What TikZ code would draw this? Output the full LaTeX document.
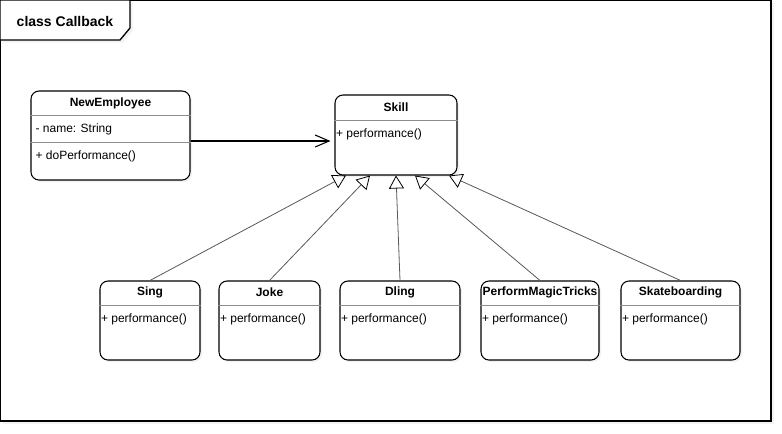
\documentclass[tikz,border=0pt]{standalone}
\usepackage{fontspec}
\setmainfont{Liberation Sans}
\usetikzlibrary{arrows.meta,shadows}

\begin{document}
\begin{tikzpicture}[x=0.75pt,y=-0.75pt,
  cls/.style 2 args={draw,line width=0.8pt,rounded corners=6pt,fill=white,
    minimum width=#1*0.75pt,minimum height=#2*0.75pt,inner sep=0pt,
    drop shadow={opacity=0.1,shadow xshift=1.5pt,shadow yshift=-1.5pt}},
  ctitle/.style={font=\bfseries\fontsize{9}{10}\selectfont,inner sep=0pt},
  member/.style={font=\fontsize{9}{10}\selectfont,anchor=west,inner sep=1pt},
  sep/.style={draw=black!45,line width=0.5pt},
  assoc/.style={line width=0.8pt,-{Straight Barb[length=10.5pt,width=9pt]},shorten >=3pt},
  gen/.style={draw=black!65,line width=0.6pt,-{Triangle[open,length=9.75pt,width=11.25pt,color=black]}},
]
\useasboundingbox (0,0) rectangle (782,433);
% frame and its tab
\draw[line width=1.2pt,fill=white,drop shadow={opacity=0.1,shadow xshift=2pt,shadow yshift=-2pt}] (0,0) rectangle (771,421);
\draw[line width=1pt,fill=white,drop shadow={opacity=0.1,shadow xshift=2pt,shadow yshift=-2pt}] (0,0) -- (130,0) -- (130,28) -- (120,40) -- (0,40) -- cycle;
\node[font=\bfseries\fontsize{10.5}{12}\selectfont] (frametitle) at (65,21) {class Callback};

% classes
\node[cls={159}{89}] (newemp) at (110.5,135.5) {};
\node[cls={122}{80}] (skill) at (396,135) {};
\node[cls={100}{79}] (sing) at (150,320.5) {};
\node[cls={101}{79}] (joke) at (269.5,320.5) {};
\node[cls={120}{79}] (dling) at (400,320.5) {};
\node[cls={118}{79}] (magic) at (540,320.5) {};
\node[cls={119}{79}] (skate) at (680.5,320.5) {};

% compartments
\draw[sep] (newemp.west |- 0,115) -- (newemp.east |- 0,115);
\draw[sep] (newemp.west |- 0,142) -- (newemp.east |- 0,142);
\draw[sep] (skill.west |- 0,120) -- (skill.east |- 0,120);
\draw[sep] (sing.west |- 0,305) -- (sing.east |- 0,305);
\draw[sep] (joke.west |- 0,305) -- (joke.east |- 0,305);
\draw[sep] (dling.west |- 0,305) -- (dling.east |- 0,305);
\draw[sep] (magic.west |- 0,305) -- (magic.east |- 0,305);
\draw[sep] (skate.west |- 0,305) -- (skate.east |- 0,305);

% names and members
\node[ctitle] (newempt) at (110.5,103) {NewEmployee};
\node[member] (newempname) at (34,129) {- name: String};
\node[member] (newempop) at (34,156) {+ doPerformance()};
\node[ctitle] (skillt) at (396,107) {Skill};
\node[member] (skillop) at (skill.west |- 0,134) {+ performance()};
\node[ctitle] (singt) at (150,292) {Sing};
\node[member] (singop) at (sing.west |- 0,319) {+ performance()};
\node[ctitle] (joket) at (269.5,292) {Joke};
\node[member] (jokeop) at (joke.west |- 0,319) {+ performance()};
\node[ctitle] (dlingt) at (400,292) {Dling};
\node[member] (dlingop) at (dling.west |- 0,319) {+ performance()};
\node[ctitle] (magict) at (540,292) {PerformMagicTricks};
\node[member] (magicop) at (magic.west |- 0,319) {+ performance()};
\node[ctitle] (skatet) at (680.5,292) {Skateboarding};
\node[member] (skateop) at (skate.west |- 0,319) {+ performance()};

% relations
\draw[assoc] (newemp.east |- 0,141) -- (skill.west |- 0,141);
\draw[gen] (sing.north) -- (346,0 |- skill.south);
\draw[gen] (joke.north) -- (370,0 |- skill.south);
\draw[gen] (dling.north) -- (396,0 |- skill.south);
\draw[gen] (magic.north) -- (415,0 |- skill.south);
\draw[gen] (skate.north) -- (449,0 |- skill.south);
\end{tikzpicture}
\end{document}
